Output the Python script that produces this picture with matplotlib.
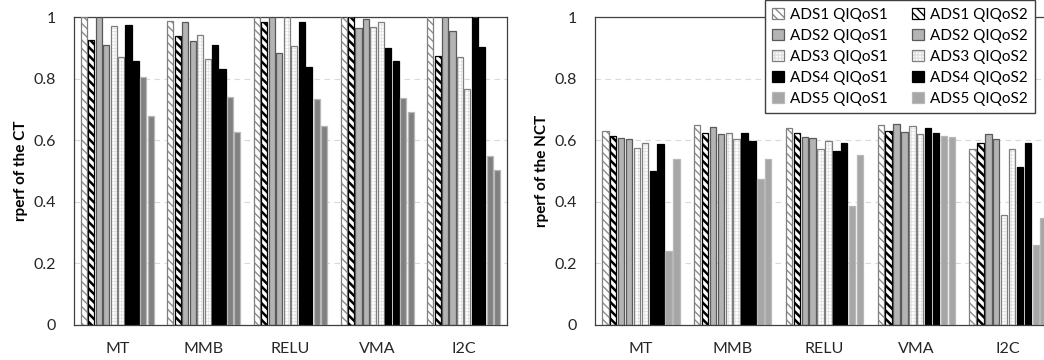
import matplotlib.pyplot as plt
import numpy as np

plt.rcParams["font.family"] = ["Lato", "DejaVu Sans"]

categories = ["MT", "MMB", "RELU", "VMA", "I2C"]
series = ["ADS1 QIQoS1", "ADS1 QIQoS2", "ADS2 QIQoS1", "ADS2 QIQoS2",
          "ADS3 QIQoS1", "ADS3 QIQoS2", "ADS4 QIQoS1", "ADS4 QIQoS2",
          "ADS5 QIQoS1", "ADS5 QIQoS2"]

# rperf of the CT (values above 1 are cut by the axis top)
ct_ads1_q1 = [1.00, 0.988, 1.03, 1.03, 1.03]
ct_ads1_q2 = [0.926, 0.939, 0.986, 1.03, 0.875]
ct_ads2_q1 = [1.03, 0.984, 1.03, 0.966, 1.03]
ct_ads2_q2 = [0.910, 0.923, 0.885, 0.993, 0.956]
ct_ads3_q1 = [0.972, 0.942, 1.03, 0.969, 0.872]
ct_ads3_q2 = [0.872, 0.863, 0.907, 0.986, 0.766]
ct_ads4_q1 = [0.976, 0.911, 0.986, 0.901, 1.03]
ct_ads4_q2 = [0.859, 0.831, 0.837, 0.859, 0.902]
ct_ads5_q1 = [0.807, 0.742, 0.733, 0.739, 0.549]
ct_ads5_q2 = [0.679, 0.628, 0.647, 0.691, 0.504]

# rperf of the NCT
nct_ads1_q1 = [0.630, 0.650, 0.640, 0.650, 0.573]
nct_ads1_q2 = [0.614, 0.623, 0.625, 0.630, 0.590]
nct_ads2_q1 = [0.607, 0.643, 0.611, 0.652, 0.620]
nct_ads2_q2 = [0.603, 0.620, 0.608, 0.627, 0.604]
nct_ads3_q1 = [0.576, 0.624, 0.571, 0.647, 0.356]
nct_ads3_q2 = [0.592, 0.606, 0.598, 0.622, 0.573]
nct_ads4_q1 = [0.500, 0.623, 0.565, 0.640, 0.513]
nct_ads4_q2 = [0.587, 0.598, 0.590, 0.623, 0.590]
nct_ads5_q1 = [0.240, 0.474, 0.387, 0.614, 0.259]
nct_ads5_q2 = [0.538, 0.541, 0.553, 0.611, 0.348]

ct = [ct_ads1_q1, ct_ads1_q2, ct_ads2_q1, ct_ads2_q2, ct_ads3_q1,
      ct_ads3_q2, ct_ads4_q1, ct_ads4_q2, ct_ads5_q1, ct_ads5_q2]
nct = [nct_ads1_q1, nct_ads1_q2, nct_ads2_q1, nct_ads2_q2, nct_ads3_q1,
       nct_ads3_q2, nct_ads4_q1, nct_ads4_q2, nct_ads5_q1, nct_ads5_q2]

# face, hatch, hatch colour, hatch width, outline colour
styles = [
    ("white", r"\\\\", "#8c8c8c", 1.0, "#7f7f7f"),
    ("white", r"\\\\", "black", 1.8, "black"),
    ("#b4b4b4", None, "#b4b4b4", 1.0, "#595959"),
    ("#b4b4b4", None, "#b4b4b4", 1.0, "#595959"),
    ("white", "+++++", "#e0e0e0", 0.5, "#7f7f7f"),
    ("white", "+++++", "#e0e0e0", 0.5, "#7f7f7f"),
    ("black", None, "black", 1.0, "black"),
    ("black", None, "black", 1.0, "black"),
    ("#a6a6a6", None, "#a6a6a6", 1.0, "#b8b8b8"),
    ("#a6a6a6", None, "#a6a6a6", 1.0, "#b8b8b8"),
]
ads5_left = "#808080"

fig = plt.figure(figsize=(10.44, 3.6), dpi=100)
ax1 = fig.add_axes([74 / 1044, 35 / 360, 433 / 1044, 307.7 / 360])
ax2 = fig.add_axes([595 / 1044, 35 / 360, 459 / 1044, 307.7 / 360])

x = np.arange(len(categories))
pitch = 0.086
width = 0.07
handles = []
for ax, data, ylab in [(ax1, ct, "rperf of the CT"), (ax2, nct, "rperf of the NCT")]:
    for i, vals in enumerate(data):
        face, hatch, hcol, hlw, edge = styles[i]
        if ax is ax1 and i >= 8:
            face, hcol = ads5_left, ads5_left
        pos = x + (i - 4.5) * pitch
        with plt.rc_context({"hatch.linewidth": hlw}):
            b1 = ax.bar(pos, vals, width, color=face, edgecolor=hcol,
                        hatch=hatch, linewidth=0, zorder=2)
        b2 = ax.bar(pos, vals, width, fill=False, edgecolor=edge,
                    linewidth=0.9, zorder=3)
        if ax is ax2:
            handles.append((b1, b2))
    ax.set_ylim(0, 1)
    ax.set_xlim(-0.5, 4.5)
    ax.set_xticks(x)
    ax.set_xticklabels(categories, fontsize=11.5)
    ax.set_yticks([0, 0.2, 0.4, 0.6, 0.8, 1])
    ax.set_yticklabels(["0", "0.2", "0.4", "0.6", "0.8", "1"], fontsize=11.5)
    ax.tick_params(axis="x", length=0, pad=12, colors="#262626")
    ax.tick_params(axis="y", length=0, pad=13, colors="#262626")
    ax.set_ylabel(ylab, fontsize=11, fontweight="bold", labelpad=4)
    ax.grid(axis="y", color="#d9d9d9", linestyle=(0, (5, 4)), linewidth=0.8, zorder=0)
    ax.set_axisbelow(True)
    for s in ax.spines.values():
        s.set_color("#404040")
        s.set_linewidth(0.9)

order = [0, 2, 4, 6, 8, 1, 3, 5, 7, 9]
fig.legend([handles[k] for k in order], [series[k] for k in order],
           ncol=2, loc="upper left", bbox_to_anchor=(757 / 1044, 1.02),
           fontsize=11, frameon=True, fancybox=False, edgecolor="#404040",
           framealpha=1, handlelength=0.75, handleheight=0.75,
           handletextpad=0.4, labelspacing=0.45, columnspacing=1.6,
           borderpad=0.5)

fig.savefig("out.png", dpi=100)
